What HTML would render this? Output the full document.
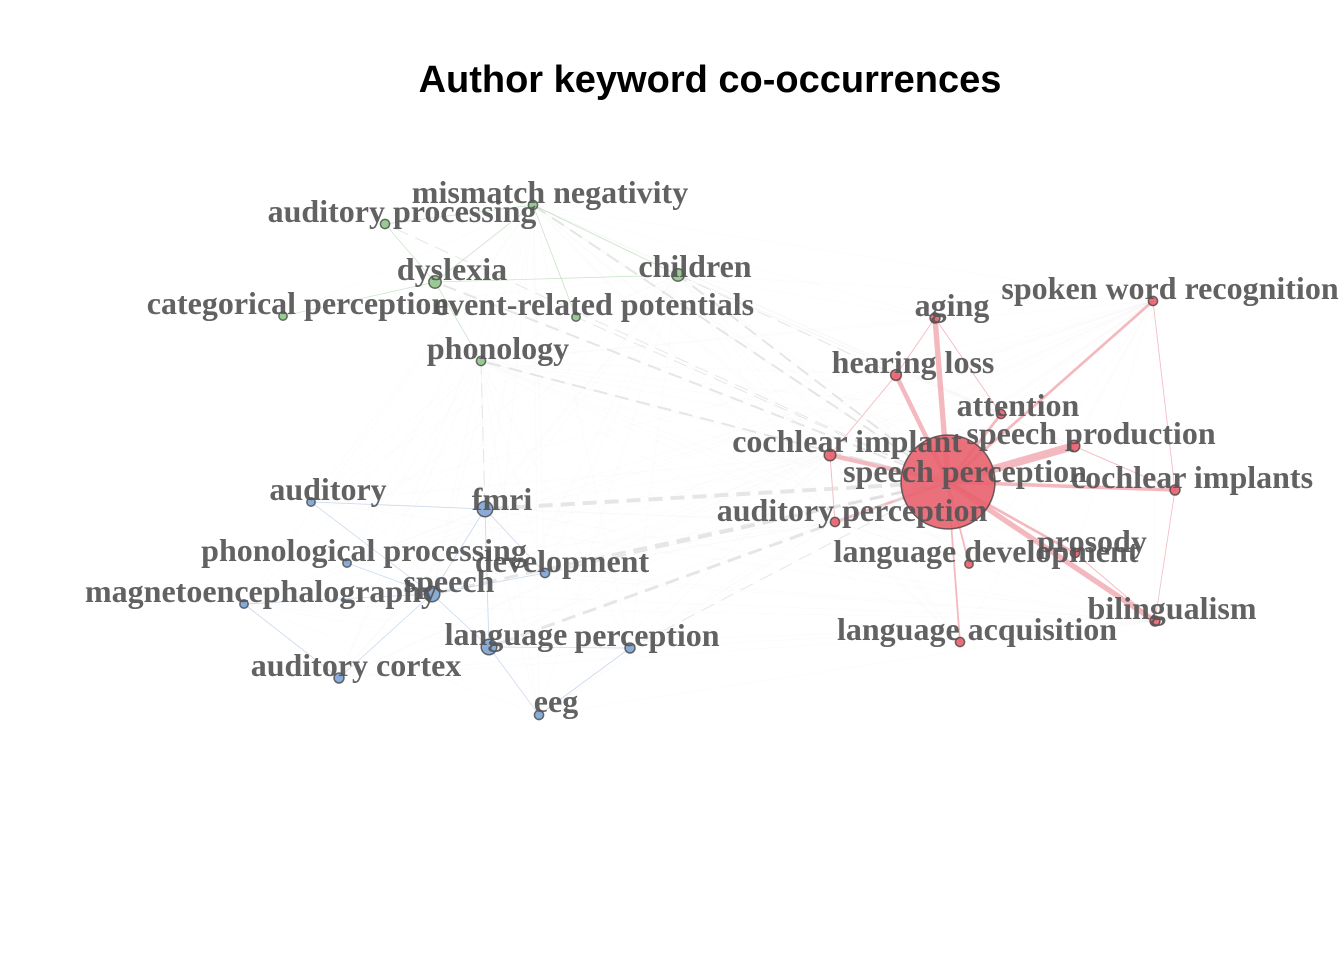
<!DOCTYPE html>
<html><head><meta charset="utf-8"><title>Author keyword co-occurrences</title>
<style>
html,body{margin:0;padding:0;background:#fff;}
svg{display:block;}
.lbl{font-family:"Liberation Serif",serif;font-weight:bold;font-size:32px;fill:#555;fill-opacity:0.92;text-anchor:middle;}
</style></head>
<body>
<svg id="chart" width="1344" height="960" viewBox="0 0 1344 960">
<text x="710" y="92" text-anchor="middle" style="font-family:'Liberation Sans',sans-serif;font-weight:bold;font-size:38px;fill:#000">Author keyword co-occurrences</text>
<g id="edges-faint"></g>
<g id="edges"></g>
<g id="nodes"></g>
<g id="labels"></g>
</svg>
<script>
const keywords = ["mismatch negativity","auditory processing","dyslexia","children","categorical perception","event-related potentials","phonology",
"speech perception","aging","spoken word recognition","hearing loss","attention","cochlear implant","speech production","cochlear implants","auditory perception","language development","prosody","bilingualism","language acquisition",
"auditory","fmri","phonological processing","development","magnetoencephalography","speech","language","perception","auditory cortex","eeg"];
const clusters = [0,0,0,0,0,0,0, 1,1,1,1,1,1,1,1,1,1,1,1,1, 2,2,2,2,2,2,2,2,2,2];
const layoutX = [533,385,435,678,283,576,481, 948,935,1153,896,1001,830,1074,1175,835,969,1075,1155,960, 311,485,347,545,244,432,489,630,339,539];
const layoutY = [205,224,282,275,316,317,361, 482,318,301,375,414,455,446,490,522,564,553,621,642, 502,509,563,573,604,594,647,648,678,715];
const occurrences = [4,4,8,8,3,3,4, 110,5,4,6,4,7,7,5,4,3,4,5,4, 3,12,3,4,3,12,12,5,5,4];
const labelDX = [17,17,17,17,15,18,17, 17,17,17,17,17,17,17,17,17,17,17,17,17, 17,17,17,17,17,17,17,17,17,17];
const labelDY = [-2,-2,-2,2,-2,-2,-2, 0,-2,-2,-2,2,-3,-2,-2,-1,-2,-1,-2,-2, -2,1,-2,-1,-2,-2,-2,-2,-2,-3];
const edgeList = [
[7,8,6],[7,13,9],[7,18,6],[7,10,5],[7,12,5],[7,14,4],[7,9,3],[7,11,3],[7,15,3],[7,16,2],[7,17,3],[7,19,2],
[10,12,1],[10,8,1],[8,11,1],[13,14,1],[18,17,1],[12,15,1],[9,14,0.5],[18,14,0.5],
[7,21,4],[7,25,3],[7,26,3],[7,23,2],[7,2,2],[7,3,2],[7,0,2],[7,6,2],[7,1,1],[7,5,1],[7,27,1],[3,10,1],[0,3,2],[6,21,1],
[1,2,1],[2,3,1],[2,6,1],[0,5,1],[1,0,0.5],[4,2,0.5],[0,2,0.5],
[21,25,1],[25,26,1],[25,28,1],[25,24,1],[21,20,0.5],[21,23,0.5],[25,23,0.5],[26,27,0.5],[26,29,0.5],[21,26,0.5],[22,25,0.5],[20,25,0.5],[24,28,0.5],[29,27,0.5]
];
const palette = {0:["#8fc58a","#4a7d45","#8fc58a"],1:["#e8606e","#8a2a33","#ec8a94"],2:["#7ea3d1","#3e5f87","#8fb0da"]};
const NS="http://www.w3.org/2000/svg";
const rScale = v => 3 + v*0.4;
const fg=document.getElementById('edges-faint');
for(let i=0;i<keywords.length;i++)for(let j=i+1;j<keywords.length;j++){
  if((i*7+j*3)%3!==0)continue;
  const l=document.createElementNS(NS,'line');
  
  
  l.setAttribute('x1',layoutX[i]);l.setAttribute('y1',layoutY[i]);l.setAttribute('x2',layoutX[j]);l.setAttribute('y2',layoutY[j]);
  l.setAttribute('stroke','#ddd');l.setAttribute('stroke-opacity','0.09');l.setAttribute('stroke-width','1');
  fg.appendChild(l);
}
const eg=document.getElementById('edges');
edgeList.forEach(([s,t,w])=>{
  const l=document.createElementNS(NS,'line');
  
  
  l.setAttribute('x1',layoutX[s]);l.setAttribute('y1',layoutY[s]);l.setAttribute('x2',layoutX[t]);l.setAttribute('y2',layoutY[t]);
  const same=clusters[s]===clusters[t];
  l.setAttribute('stroke',same?palette[clusters[s]][2]:'#dcdcdc');
  l.setAttribute('stroke-opacity',same?(clusters[s]===1?0.6:0.45):0.7);
  l.setAttribute('stroke-width',same&&clusters[s]!==1?0.8:Math.max(0.8,w*(same?0.9:1)));
  if(!same)l.setAttribute('stroke-dasharray','14 8');
  eg.appendChild(l);
});
const ng=document.getElementById('nodes'),lg=document.getElementById('labels');
keywords.forEach((k,i)=>{
  const c=document.createElementNS(NS,'circle');
  
  
  c.setAttribute('cx',layoutX[i]);c.setAttribute('cy',layoutY[i]);c.setAttribute('r',rScale(occurrences[i]));
  c.setAttribute('fill',palette[clusters[i]][0]);c.setAttribute('fill-opacity','0.9');
  c.setAttribute('stroke','#333');c.setAttribute('stroke-opacity','0.7');c.setAttribute('stroke-width','1.5');
  ng.appendChild(c);
});
keywords.forEach((k,i)=>{
  const t=document.createElementNS(NS,'text');
  
  
  t.setAttribute('class','lbl');
  t.setAttribute('x',layoutX[i]+labelDX[i]);t.setAttribute('y',layoutY[i]+labelDY[i]);
  t.textContent=k;
  lg.appendChild(t);
});
</script>
</body></html>
